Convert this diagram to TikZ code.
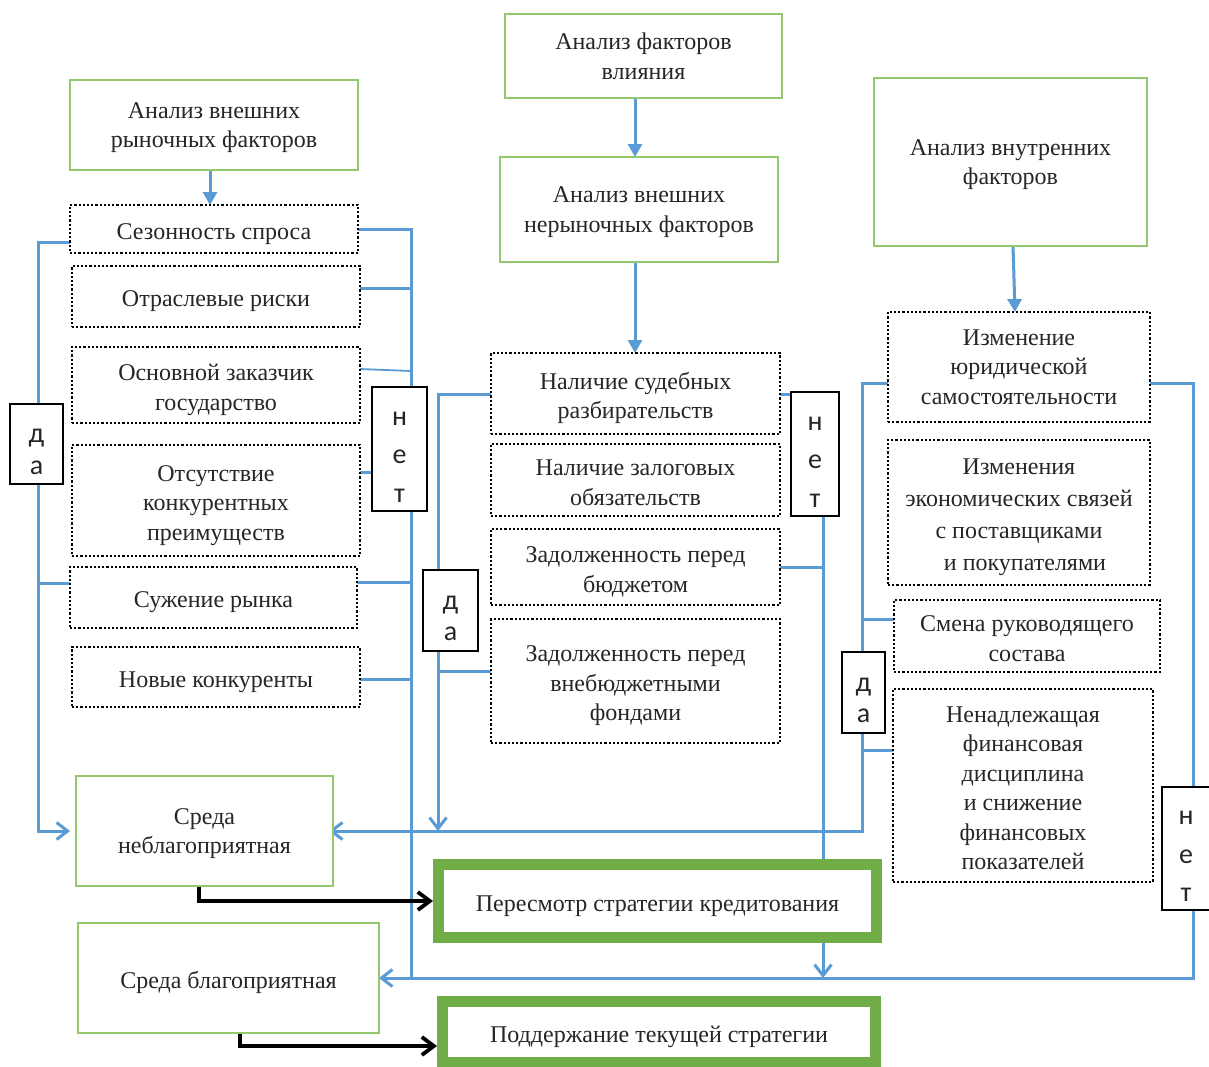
\documentclass[tikz,border=0pt]{standalone}
\usepackage{fontspec}
\setmainfont{Liberation Serif}
\newfontfamily\lettersf{Carlito}
\usetikzlibrary{arrows.meta,backgrounds}
\definecolor{lnblue}{RGB}{91,155,213}
\definecolor{lgreen}{RGB}{146,200,110}
\definecolor{dgreen}{RGB}{112,173,71}
\definecolor{txt}{RGB}{38,38,38}
\newcommand\tstr{\rule{0pt}{20.5pt}}
\newcommand\lstr{\rule{0pt}{29pt}}
\begin{document}
\begin{tikzpicture}[x=1pt,y=-1pt,
  every node/.style={inner sep=0pt,outer sep=0pt,text=txt},
  mainfont/.style={font=\fontsize{24}{29.5}\selectfont,text depth=0pt},
  gbox/.style={draw=lgreen,line width=1.3pt,fill=white,align=center,mainfont},
  dbox/.style={draw=black,line width=2.3pt,dash pattern=on 2.2pt off 2pt,fill=white,align=center,mainfont},
  ynbox/.style={draw=black,line width=1.3pt,fill=white,align=center},
  dafont/.style={font=\lettersf\fontsize{28}{31.5}\selectfont},
  netfont/.style={font=\lettersf\fontsize{28}{38.5}\selectfont},
  sbox/.style={draw=dgreen,line width=11pt,fill=white,outer sep=5.5pt,align=center,mainfont},
  bl/.style={draw=lnblue,line width=3pt},
  openhead/.style={-{Straight Barb[length=11pt,width=17pt]}},
  fillhead/.style={-{Triangle[length=13pt,width=14pt]}},
  blk/.style={draw=black,line width=3.8pt,-{Straight Barb[length=12pt,width=18pt]}}
]
\useasboundingbox (0,0) rectangle (1209,1066);

% top boxes
\node[gbox,minimum width=277pt,minimum height=84pt] (fac) at (643.5,56) {Анализ факторов\\влияния};
\node[gbox,minimum width=288pt,minimum height=90pt] (mkt) at (214,125) {Анализ внешних\\рыночных факторов};
\node[gbox,minimum width=278pt,minimum height=105pt] (nmk) at (639,209.5) {Анализ внешних\\нерыночных факторов};
\node[gbox,minimum width=273pt,minimum height=168pt] (int) at (1010.5,162) {Анализ внутренних\\факторов};

% left column
\node[dbox,minimum width=288pt,minimum height=48pt] (l1) at (214,229) {\tstr Сезонность спроса};
\node[dbox,minimum width=288pt,minimum height=61pt] (l2) at (216,296.5) {\tstr Отраслевые риски};
\node[dbox,minimum width=288pt,minimum height=76pt] (l3) at (216,385) {\tstr Основной заказчик\\государство};
\node[dbox,minimum width=288pt,minimum height=111pt] (l4) at (216,500.5) {\tstr Отсутствие\\конкурентных\\преимуществ};
\node[dbox,minimum width=287pt,minimum height=61pt] (l5) at (213.5,597.5) {\tstr Сужение рынка};
\node[dbox,minimum width=288pt,minimum height=60pt] (l6) at (216,677) {\tstr Новые конкуренты};

% middle column
\node[dbox,minimum width=289pt,minimum height=81pt] (m1) at (635.5,393.5) {\tstr Наличие судебных\\разбирательств};
\node[dbox,minimum width=289pt,minimum height=72pt] (m2) at (635.5,480) {\tstr Наличие залоговых\\обязательств};
\node[dbox,minimum width=289pt,minimum height=76pt] (m3) at (635.5,567) {\tstr Задолженность перед\\бюджетом};
\node[dbox,minimum width=289pt,minimum height=124pt] (m4) at (635.5,681) {\tstr Задолженность перед\\внебюджетными\\фондами};

% right column
\node[dbox,minimum width=262pt,minimum height=110pt] (r1) at (1019,367) {Изменение\\юридической\\самостоятельности};
\node[dbox,minimum width=262pt,minimum height=145pt,font=\fontsize{24}{32}\selectfont] (r2) at (1019,512.5) {\tstr Изменения\\экономических связей\\с поставщиками\\\ \ и покупателями};
\node[dbox,minimum width=266pt,minimum height=72pt] (r3) at (1027,636) {\tstr Смена руководящего\\состава};
\node[dbox,minimum width=260pt,minimum height=193pt] (r4) at (1023,785.5) {\tstr Ненадлежащая\\финансовая\\дисциплина\\и снижение\\финансовых\\показателей};

% result boxes
\node[gbox,minimum width=257pt,minimum height=110pt] (bad) at (204.5,831) {Среда\\неблагоприятная};
\node[gbox,minimum width=301pt,minimum height=110pt] (good) at (228.5,978) {\tstr Среда благоприятная};
\node[sbox,minimum width=438pt,minimum height=73pt] (revise) at (657.5,901) {\tstr Пересмотр стратегии кредитования};
\node[sbox,minimum width=433pt,minimum height=61pt] (keep) at (659,1032) {\tstr Поддержание текущей стратегии};

% yes / no boxes
\node[ynbox,dafont,minimum width=53pt,minimum height=80pt] (yl) at (36.5,444) {\lstr д\\а};
\node[ynbox,netfont,minimum width=55pt,minimum height=124pt] (nl) at (399.5,449) {\lstr н\\е\\т};
\node[ynbox,dafont,minimum width=55pt,minimum height=81pt] (ym) at (450.5,610.5) {\lstr д\\а};
\node[ynbox,netfont,minimum width=48pt,minimum height=124pt] (nm) at (815,454) {\lstr н\\е\\т};
\node[ynbox,dafont,minimum width=43pt,minimum height=81pt] (yr) at (863.5,692.5) {\lstr д\\а};
\node[ynbox,netfont,minimum width=48pt,minimum height=123pt] (nr) at (1186,848.5) {\lstr н\\е\\т};

\begin{pgfonlayer}{background}
\fill[white] (0,0) rectangle (1209,1066);
% top arrows
\draw[bl,fillhead] (fac.south -| 635,0) -- (nmk.north -| 635,0);
\draw[bl,fillhead] (mkt.south -| 210,0) -- (l1.north -| 210,0);
\draw[bl,fillhead] (nmk.south -| 635,0) -- (m1.north -| 635,0);
\draw[bl,fillhead] (int.south -| 1013,0) -- (r1.north -| 1015,0);

% left "yes"
\draw[bl,openhead] (l1.west |- 0,242) -| (38,0 |- bad.west) -- ([xshift=-6pt]bad.west);
\draw[bl] (l5.west |- 0,583) -- (38,583);

% left "no"
\draw[bl] (l1.east) -| (411,978);
\draw[bl] (l2.east |- 0,288) -- (411,288);
\draw[bl,line width=1.8pt] (l3.east |- 0,369) -- (411,371);
\draw[bl] (l4.east |- 0,472) -- (411,472);
\draw[bl] (l5.east |- 0,582) -- (411,582);
\draw[bl] (l6.east |- 0,679) -- (411,679);

% middle "yes"
\draw[bl,openhead] (m1.west |- 0,394) -| (438,831);
\draw[bl] (m4.west |- 0,671) -- (438,671);

% middle "no"
\draw[bl] (m1.east |- 0,394) -- (nm.west |- 0,394);
\draw[bl,openhead] (nm.south -| 823,0) -- (823,978);
\draw[bl] (m3.east |- 0,567) -- (823,567);

% right "yes"
\draw[bl,openhead] (r1.west |- 0,383) -| (862,831) -- ([xshift=-4pt]bad.east);
\draw[bl] (r3.west |- 0,619) -- (862,619);
\draw[bl] (r4.west |- 0,750) -- (862,750);

% right "no"
\draw[bl,openhead] (r1.east |- 0,383) -| (1193,978) -- (good.east);

% black arrows
\draw[blk] (bad.south -| 199,0) |- (revise.west);
\draw[blk] (good.south -| 240,0) |- (keep.west |- 0,1046);
\end{pgfonlayer}
\end{tikzpicture}
\end{document}
